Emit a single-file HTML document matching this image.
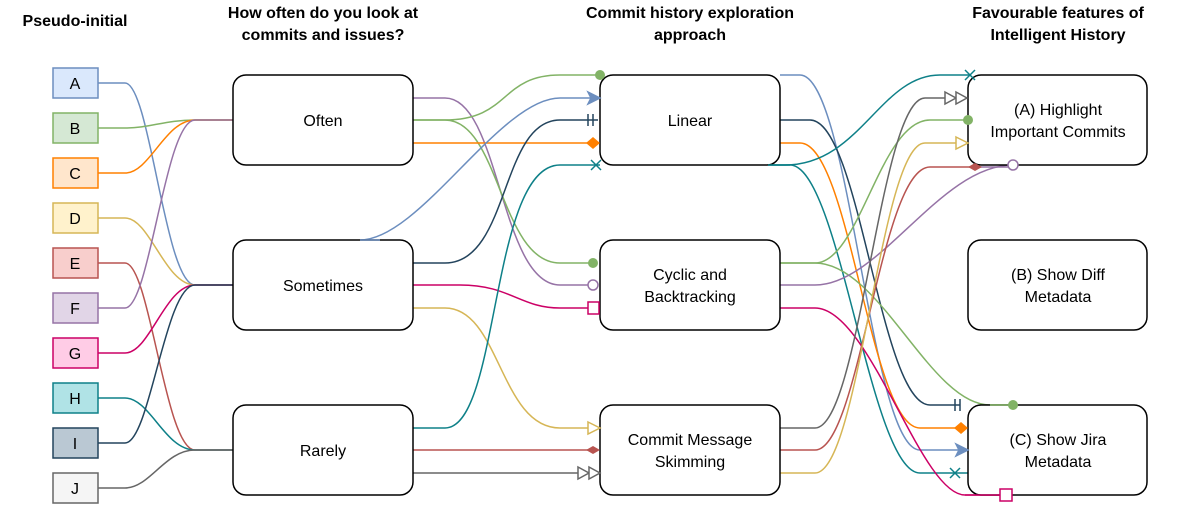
<!DOCTYPE html>
<html><head><meta charset="utf-8"><style>
body{margin:0;background:#fff}
svg{display:block}
text{font-family:"Liberation Sans",Arial,sans-serif;font-size:16px;fill:#000}
.h{font-weight:bold}
</style></head><body>
<svg width="1187" height="509" viewBox="0 0 1187 509" xmlns="http://www.w3.org/2000/svg">
<g text-anchor="middle">
<text class="h" x="75" y="26">Pseudo-initial</text>
<text class="h" x="323" y="18">How often do you look at</text>
<text class="h" x="323" y="40">commits and issues?</text>
<text class="h" x="690" y="18">Commit history exploration</text>
<text class="h" x="690" y="40">approach</text>
<text class="h" x="1058" y="18">Favourable features of</text>
<text class="h" x="1058" y="40">Intelligent History</text>
</g>
<g fill="none" stroke-width="1.5">
<!-- left -->
<path d="M98,83 H125 C150,83 165,285 195,285 H233" stroke="#6c8ebf"/>
<path d="M98,128 H125 C150,128 165,120 195,120 H233" stroke="#82b366"/>
<path d="M98,173 H125 C150,173 165,120 195,120 H233" stroke="#ff8000"/>
<path d="M98,218 H125 C150,218 165,285 195,285 H233" stroke="#d6b656"/>
<path d="M98,263 H125 C150,263 165,450 195,450 H233" stroke="#b85450"/>
<path d="M98,308 H125 C150,308 165,120 195,120 H233" stroke="#9673a6"/>
<path d="M98,353 H125 C150,353 165,285 195,285 H233" stroke="#cc0066"/>
<path d="M98,398 H125 C150,398 165,450 195,450 H233" stroke="#0e8088"/>
<path d="M98,443 H125 C150,443 165,285 195,285 H233" stroke="#23445d"/>
<path d="M98,488 H125 C150,488 165,450 195,450 H233" stroke="#666666"/>
<!-- middle -->
<path d="M413,98 H445 C500,98 500,285 560,285 H588" stroke="#9673a6"/>
<path d="M413,120 H445 C510,120 500,75 560,75 H598" stroke="#82b366"/>
<path d="M413,120 H445 C500,120 500,263 560,263 H595" stroke="#82b366"/>
<path d="M413,143 H588" stroke="#ff8000"/>
<path d="M360,240 C420,240 500,98 560,98 H592" stroke="#6c8ebf"/>
<path d="M413,263 H445 C510,263 500,120 560,120 H598" stroke="#23445d"/>
<path d="M413,285 H460 C510,285 520,308 560,308 H588" stroke="#cc0066"/>
<path d="M413,308 H445 C500,308 500,428 560,428 H588" stroke="#d6b656"/>
<path d="M413,428 H445 C500,428 490,165 560,165 H600" stroke="#0e8088"/>
<path d="M413,450 H590" stroke="#b85450"/>
<path d="M413,473 H578" stroke="#666666"/>
<!-- right -->
<path d="M780,75 H800 C850,75 870,450 920,450 H958" stroke="#6c8ebf"/>
<path d="M780,120 H810 C860,120 880,405 930,405 H960" stroke="#23445d"/>
<path d="M780,143 H800 C850,143 870,428 920,428 H955" stroke="#ff8000"/>
<path d="M768,165 H785 C860,165 880,75 940,75 H970" stroke="#0e8088"/>
<path d="M768,165 H790 C840,165 870,473 920,473 H968" stroke="#0e8088"/>
<path d="M780,263 H815 C860,263 880,120 930,120 H968" stroke="#82b366"/>
<path d="M780,263 H815 C880,263 930,405 990,405 H1013" stroke="#82b366"/>
<path d="M780,285 H815 C880,285 940,165 1013,165" stroke="#9673a6"/>
<path d="M780,308 H815 C870,308 920,495 965,495 H1006" stroke="#cc0066"/>
<path d="M780,428 H815 C860,428 880,98 925,98 H945" stroke="#666666"/>
<path d="M780,450 H815 C860,450 880,167 930,167 H975" stroke="#b85450"/>
<path d="M780,473 H815 C860,473 880,143 925,143 H956" stroke="#d6b656"/>
</g>
<!-- boxes -->
<g stroke-width="1.5">
<rect x="53" y="68" width="45" height="30" fill="#dae8fc" stroke="#6c8ebf"/>
<rect x="53" y="113" width="45" height="30" fill="#d5e8d4" stroke="#82b366"/>
<rect x="53" y="158" width="45" height="30" fill="#ffe6cc" stroke="#ff8000"/>
<rect x="53" y="203" width="45" height="30" fill="#fff2cc" stroke="#d6b656"/>
<rect x="53" y="248" width="45" height="30" fill="#f8cecc" stroke="#b85450"/>
<rect x="53" y="293" width="45" height="30" fill="#e1d5e7" stroke="#9673a6"/>
<rect x="53" y="338" width="45" height="30" fill="#ffcce6" stroke="#cc0066"/>
<rect x="53" y="383" width="45" height="30" fill="#b0e3e6" stroke="#0e8088"/>
<rect x="53" y="428" width="45" height="30" fill="#bac8d3" stroke="#23445d"/>
<rect x="53" y="473" width="45" height="30" fill="#f5f5f5" stroke="#666666"/>
</g>
<g fill="#fff" stroke="#000" stroke-width="1.5">
<rect x="233" y="75" width="180" height="90" rx="13"/>
<rect x="233" y="240" width="180" height="90" rx="13"/>
<rect x="233" y="405" width="180" height="90" rx="13"/>
<rect x="600" y="75" width="180" height="90" rx="13"/>
<rect x="600" y="240" width="180" height="90" rx="13"/>
<rect x="600" y="405" width="180" height="90" rx="13"/>
<rect x="968" y="75" width="179" height="90" rx="13"/>
<rect x="968" y="240" width="179" height="90" rx="13"/>
<rect x="968" y="405" width="179" height="90" rx="13"/>
</g>
<g fill="none" stroke-width="1.5">
<path d="M768,165 H790" stroke="#0e8088"/>
<path d="M360,240 H380" stroke="#6c8ebf"/>
<path d="M975,167 H1013" stroke="#9673a6"/>
<path d="M965,495 H1006" stroke="#cc0066"/>
<path d="M990,405 H1013" stroke="#82b366"/>
</g>
<g text-anchor="middle">
<text x="75" y="89">A</text><text x="75" y="134">B</text><text x="75" y="179">C</text><text x="75" y="224">D</text><text x="75" y="269">E</text>
<text x="75" y="314">F</text><text x="75" y="359">G</text><text x="75" y="404">H</text><text x="75" y="449">I</text><text x="75" y="494">J</text>
<text x="323" y="126">Often</text>
<text x="323" y="291">Sometimes</text>
<text x="323" y="456">Rarely</text>
<text x="690" y="126">Linear</text>
<text x="690" y="280">Cyclic and</text><text x="690" y="302">Backtracking</text>
<text x="690" y="445">Commit Message</text><text x="690" y="467">Skimming</text>
<text x="1058" y="115">(A) Highlight</text><text x="1058" y="137">Important Commits</text>
<text x="1058" y="280">(B) Show Diff</text><text x="1058" y="302">Metadata</text>
<text x="1058" y="445">(C) Show Jira</text><text x="1058" y="467">Metadata</text>
</g>
<g stroke-width="1.5">
<circle cx="600" cy="75" r="5" fill="#82b366"/>
<circle cx="593" cy="263" r="5" fill="#82b366"/>
<circle cx="968" cy="120" r="5" fill="#82b366"/>
<circle cx="1013" cy="405" r="5" fill="#82b366"/>
<polygon points="588,92 600,98 588,104 591,98" fill="#6c8ebf" stroke="#6c8ebf"/>
<polygon points="956,444 968,450 956,456 959,450" fill="#6c8ebf" stroke="#6c8ebf"/>
<path d="M588,114 V126 M593,114 V126" stroke="#23445d"/>
<path d="M955,399 V411 M960,399 V411" stroke="#23445d"/>
<polygon points="586,143 593,137 600,143 593,149" fill="#ff8000"/>
<polygon points="954,428 961,422 968,428 961,434" fill="#ff8000"/>
<path d="M591,160 L601,170 M601,160 L591,170" stroke="#0e8088"/>
<path d="M965,70 L975,80 M975,70 L965,80" stroke="#0e8088"/>
<path d="M950,468 L960,478 M960,468 L950,478" stroke="#0e8088"/>
<circle cx="593" cy="285" r="5" fill="#fff" stroke="#9673a6"/>
<circle cx="1013" cy="165" r="5" fill="#fff" stroke="#9673a6"/>
<rect x="588" y="302" width="11" height="12" fill="#fff" stroke="#cc0066"/>
<rect x="1000" y="489" width="12" height="12" fill="#fff" stroke="#cc0066"/>
<polygon points="588,422 600,428 588,434" fill="#fff" stroke="#d6b656"/>
<polygon points="956,137 968,143 956,149" fill="#fff" stroke="#d6b656"/>
<polygon points="586,450 593,446 600,450 593,454" fill="#b85450"/>
<polygon points="968,167 975,163 982,167 975,171" fill="#b85450"/>
<polygon points="578,467 589,473 578,479" fill="#fff" stroke="#666"/>
<polygon points="589,467 600,473 589,479" fill="#fff" stroke="#666"/>
<polygon points="945,92 956,98 945,104" fill="#fff" stroke="#666"/>
<polygon points="956,92 967,98 956,104" fill="#fff" stroke="#666"/>
</g>
</svg>
</body></html>
